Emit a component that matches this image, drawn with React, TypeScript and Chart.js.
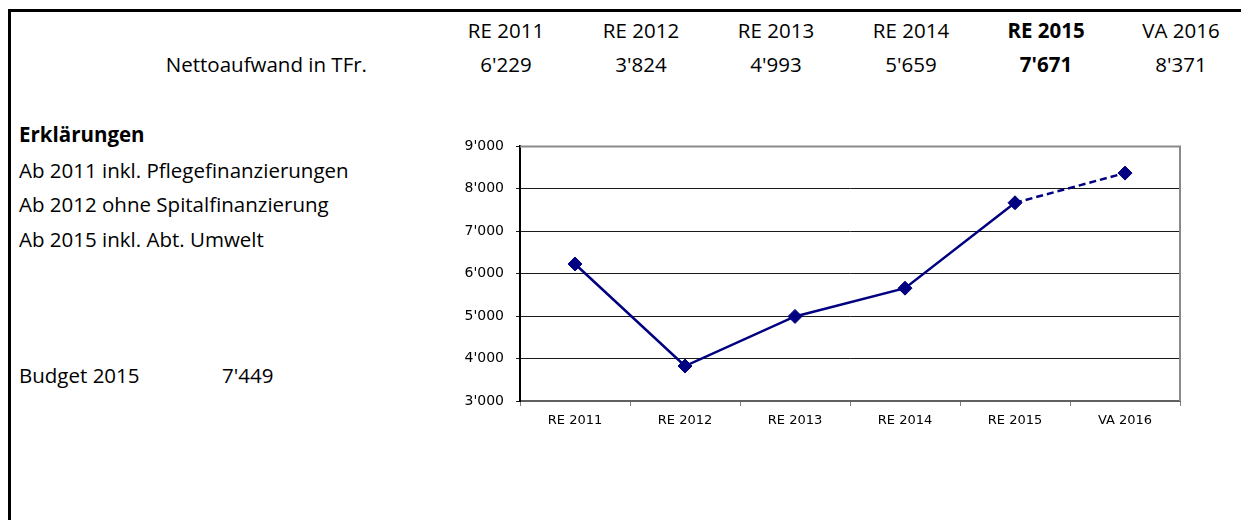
import React, { useEffect, useRef } from "react";
import { Chart, registerables } from "chart.js";

Chart.register(...registerables);

const categories = ["RE 2011", "RE 2012", "RE 2013", "RE 2014", "RE 2015", "VA 2016"];
const netValues = [6229, 3824, 4993, 5659, 7671, 8371];
const boldIndex = 4;
const dashedFromIndex = 4;
const rowLabel = "Nettoaufwand in TFr.";
const notesTitle = "Erklärungen";
const notes = [
  "Ab 2011 inkl. Pflegefinanzierungen",
  "Ab 2012 ohne Spitalfinanzierung",
  "Ab 2015 inkl. Abt. Umwelt",
];
const budgetLabel = "Budget 2015";
const budgetValue = 7449;
const yMin = 3000;
const yMax = 9000;
const yStep = 1000;

const fmt = (n: number) => String(Math.round(n)).replace(/\B(?=(\d{3})+(?!\d))/g, "'");

const FONT = "'Open Sans', sans-serif";
const FS = 20.5;
const colCenters = [506, 641, 776, 911, 1046, 1181];

const framePlugin = {
  id: "frame",
  beforeDatasetsDraw(chart: any) {
    const { ctx, chartArea } = chart;
    const { left, right, top, bottom } = chartArea;
    ctx.save();
    ctx.strokeStyle = "#8a8a8a";
    ctx.lineWidth = 2;
    ctx.beginPath();
    ctx.moveTo(left, top);
    ctx.lineTo(right, top);
    ctx.lineTo(right, bottom);
    ctx.stroke();
    ctx.restore();
  },
};

function LineChart() {
  const ref = useRef<HTMLCanvasElement | null>(null);
  useEffect(() => {
    if (!ref.current) return;
    const chart = new Chart(ref.current, {
      type: "line",
      data: {
        labels: categories,
        datasets: [
          {
            data: netValues,
            borderColor: "#000080",
            backgroundColor: "#000080",
            borderWidth: 2.5,
            pointStyle: "rectRot",
            pointRadius: 7,
            pointBorderWidth: 1,
            pointBorderColor: "#000080",
            pointBackgroundColor: "#000080",
            tension: 0,
            segment: {
              borderDash: (c: any) => (c.p0DataIndex >= dashedFromIndex ? [7, 4] : undefined),
            },
          } as any,
        ],
      },
      options: {
        animation: false,
        responsive: true,
        maintainAspectRatio: false,
        layout: { padding: { top: 20, right: 20, left: 0, bottom: 0 } },
        plugins: { legend: { display: false }, tooltip: { enabled: false }, title: { display: false } },
        scales: {
          x: {
            offset: true,
            grid: { offset: true, drawOnChartArea: false, tickLength: 5, color: "#808080", lineWidth: 1 },
            border: { color: "#606060", width: 2 },
            ticks: {
              color: "#000",
              font: { family: "'DejaVu Sans', sans-serif", size: 13 },
              padding: 7,
              maxRotation: 0,
            },
            afterFit: (s: any) => {
              s.height = 39;
            },
          },
          y: {
            min: yMin,
            max: yMax,
            ticks: {
              stepSize: yStep,
              color: "#000",
              font: { family: "'DejaVu Sans', sans-serif", size: 14 },
              padding: 12,
              callback: (v: any) => fmt(Number(v)),
            },
            grid: { color: "#1a1a1a", lineWidth: 1, tickLength: 4 },
            border: { color: "#000", width: 2 },
            afterFit: (s: any) => {
              s.width = 80;
            },
          },
        },
      },
      plugins: [framePlugin],
    });
    return () => chart.destroy();
  }, []);
  return <canvas ref={ref} />;
}

const txt = (baseline: number): React.CSSProperties => ({
  position: "absolute",
  top: baseline - 0.888 * FS,
  fontFamily: FONT,
  fontSize: FS,
  lineHeight: 1,
  whiteSpace: "nowrap",
  color: "#000",
});

export default function App() {
  return (
    <div
      style={{
        position: "fixed",
        left: 0,
        top: 0,
        width: 1241,
        height: 520,
        background: "#fff",
        overflow: "hidden",
      }}
    >
      <div
        style={{
          position: "absolute",
          left: 8,
          top: 9,
          width: 1400,
          height: 700,
          borderLeft: "3px solid #000",
          borderTop: "3px solid #000",
        }}
      />
      {categories.map((c, i) => (
        <div
          key={"h" + i}
          style={{
            ...txt(38),
            left: colCenters[i] - 60,
            width: 120,
            textAlign: "center",
            fontWeight: i === boldIndex ? 700 : 400,
          }}
        >
          {c}
        </div>
      ))}
      <div style={{ ...txt(72), left: 100, width: 267, textAlign: "right" }}>{rowLabel}</div>
      {netValues.map((v, i) => (
        <div
          key={"v" + i}
          style={{
            ...txt(72),
            left: colCenters[i] - 60,
            width: 120,
            textAlign: "center",
            fontWeight: i === boldIndex ? 700 : 400,
          }}
        >
          {fmt(v)}
        </div>
      ))}
      <div style={{ ...txt(142.7), left: 19, fontWeight: 700 }}>{notesTitle}</div>
      {notes.map((n, i) => (
        <div key={"n" + i} style={{ ...txt(178 + i * 34.4), left: 19 }}>
          {n}
        </div>
      ))}
      <div style={{ ...txt(383.3), left: 19 }}>{budgetLabel}</div>
      <div style={{ ...txt(383.3), left: 222 }}>{fmt(budgetValue)}</div>
      <div style={{ position: "absolute", left: 440, top: 126, width: 760, height: 314 }}>
        <LineChart />
      </div>
    </div>
  );
}
